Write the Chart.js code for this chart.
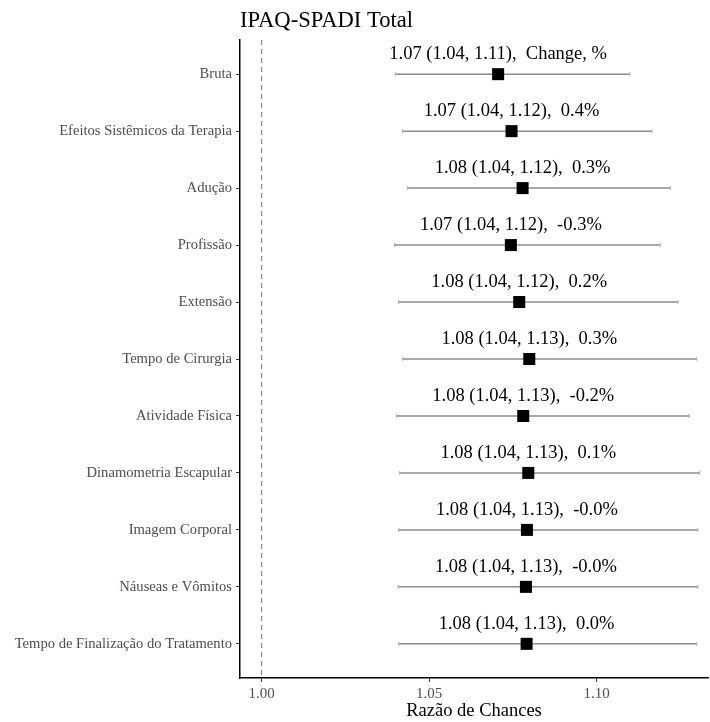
<!DOCTYPE html>
<html>
<head>
<meta charset="utf-8">
<script src="https://cdn.jsdelivr.net/npm/chart.js@4/dist/chart.umd.min.js"></script>
<style>
  html, body { margin: 0; padding: 0; background: #ffffff; overflow: hidden; }
  #wrap { width: 710px; height: 722px; position: relative; }
  canvas { display: block; }
</style>
</head>
<body>
<div id="wrap"><canvas id="c" width="710" height="722"></canvas></div>
<script>
// ---- data ----
const chartTitle = "IPAQ-SPADI Total";
const xAxisTitle = "Razão de Chances";
const categories = [
  "Bruta",
  "Efeitos Sistêmicos da Terapia",
  "Adução",
  "Profissão",
  "Extensão",
  "Tempo de Cirurgia",
  "Atividade Física",
  "Dinamometria Escapular",
  "Imagem Corporal",
  "Náuseas e Vômitos",
  "Tempo de Finalização do Tratamento"
];
const estimates = [1.0706, 1.0746, 1.0779, 1.0744, 1.0769, 1.0799, 1.0781, 1.0796, 1.0792, 1.0789, 1.0791];
const lowers    = [1.0399, 1.0421, 1.0436, 1.0397, 1.0409, 1.0421, 1.0402, 1.0412, 1.0409, 1.0407, 1.0409];
const uppers    = [1.1099, 1.1165, 1.1220, 1.1190, 1.1243, 1.1299, 1.1277, 1.1307, 1.1302, 1.1302, 1.1299];
const changes   = ["Change, %", "0.4%", "0.3%", "-0.3%", "0.2%", "0.3%", "-0.2%", "0.1%", "-0.0%", "-0.0%", "0.0%"];
const xTicks = [1.00, 1.05, 1.10];
const referenceValue = 1.00;

// ---- build datasets from arrays ----
const serif = "'Liberation Serif', 'Times New Roman', serif";
const yMin = -0.6, yMax = categories.length - 1 + 0.6;

const errorBarSets = categories.map((c, i) => ({
  type: 'line',
  label: 'ci-' + i,
  data: [{x: lowers[i], y: i}, {x: uppers[i], y: i}],
  borderColor: '#8c8c8c',
  borderWidth: 1.5,
  pointStyle: 'line',
  rotation: 90,
  pointRadius: 2,
  pointBorderColor: '#b0b0b0',
  pointBorderWidth: 1,
  pointHoverRadius: 2,
  fill: false,
  order: 2
}));

const refLine = {
  type: 'line',
  label: 'ref',
  data: [{x: referenceValue, y: yMin}, {x: referenceValue, y: yMax}],
  borderColor: '#777777',
  borderWidth: 1,
  borderDash: [5, 4],
  pointRadius: 0,
  fill: false,
  order: 3
};

const pointSet = {
  type: 'scatter',
  label: 'estimate',
  data: estimates.map((v, i) => ({x: v, y: i})),
  pointStyle: 'rect',
  pointRadius: 8.5,
  pointHoverRadius: 8.5,
  backgroundColor: '#000000',
  borderColor: '#000000',
  borderWidth: 0,
  order: 0
};

const labelPlugin = {
  id: 'labels',
  afterDatasetsDraw(chart) {
    const {ctx, scales: {x, y}} = chart;
    ctx.save();
    ctx.font = "18.5px " + serif;
    ctx.fillStyle = '#000000';
    ctx.textAlign = 'center';
    ctx.textBaseline = 'alphabetic';
    estimates.forEach((v, i) => {
      const txt = v.toFixed(2) + ' (' + lowers[i].toFixed(2) + ', ' + uppers[i].toFixed(2) + '),  ' + changes[i];
      ctx.fillText(txt, x.getPixelForValue(v), y.getPixelForValue(i) - 15);
    });
    ctx.restore();
  }
};

const titlePlugin = {
  id: 'customTitle',
  afterDraw(chart) {
    const {ctx, chartArea} = chart;
    ctx.save();
    ctx.font = "22.6px " + serif;
    ctx.fillStyle = '#000000';
    ctx.textAlign = 'left';
    ctx.textBaseline = 'alphabetic';
    ctx.fillText(chartTitle, chartArea.left, 27);
    ctx.restore();
  }
};

new Chart(document.getElementById('c'), {
  type: 'scatter',
  data: { datasets: [pointSet, ...errorBarSets, refLine] },
  options: {
    responsive: false,
    animation: false,
    layout: { autoPadding: false, padding: { top: 40, right: 2, left: 0, bottom: 0 } },
    plugins: {
      legend: { display: false },
      tooltip: { enabled: false },
      title: { display: false }
    },
    scales: {
      x: {
        type: 'linear',
        position: 'bottom',
        min: 0.99354,
        max: 1.13325,
        afterBuildTicks(scale) { scale.ticks = xTicks.map(v => ({value: v})); },
        afterFit(scale) { scale.height = 44; scale.paddingLeft = 0; scale.paddingRight = 0; },
        ticks: {
          callback: v => Number(v).toFixed(2),
          font: { family: serif, size: 15 },
          color: '#4d4d4d',
          padding: 3,
          maxRotation: 0
        },
        grid: { drawOnChartArea: false, drawTicks: true, tickLength: 4, color: '#333333', tickWidth: 1 },
        border: { display: true, color: '#000000', width: 1.5 },
        title: {
          display: true,
          text: xAxisTitle,
          font: { family: serif, size: 18.5 },
          color: '#000000',
          padding: { top: 0, bottom: 0 }
        }
      },
      y: {
        type: 'linear',
        position: 'left',
        reverse: true,
        min: yMin,
        max: yMax,
        afterBuildTicks(scale) { scale.ticks = categories.map((c, i) => ({value: i})); },
        afterFit(scale) { scale.width = 240; scale.paddingTop = 0; scale.paddingBottom = 0; },
        ticks: {
          callback: v => categories[v],
          font: { family: serif, size: 14.6 },
          color: '#4d4d4d',
          padding: 4,
          autoSkip: false
        },
        grid: { drawOnChartArea: false, drawTicks: true, tickLength: 4, color: '#333333', tickWidth: 1 },
        border: { display: true, color: '#000000', width: 1.5 }
      }
    }
  },
  plugins: [labelPlugin, titlePlugin]
});
</script>
</body>
</html>
